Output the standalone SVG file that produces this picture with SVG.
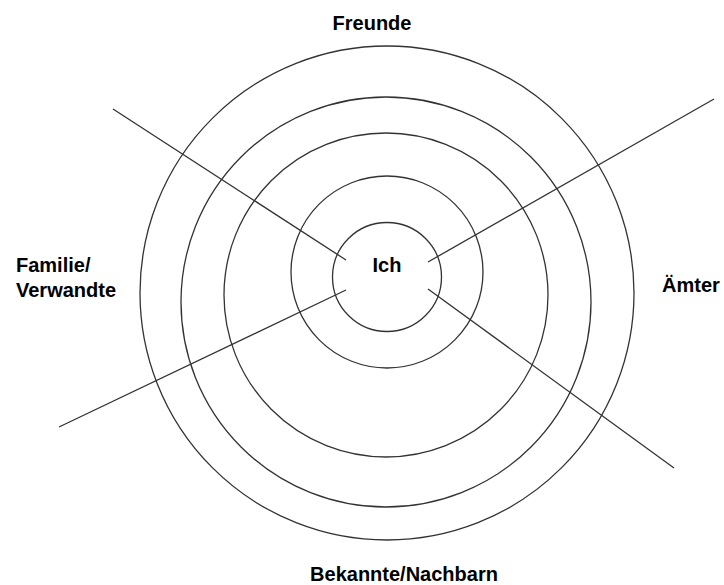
<svg xmlns="http://www.w3.org/2000/svg" width="724" height="585" viewBox="0 0 724 585">
<style>
.c{fill:none;stroke:#333;stroke-width:1.3}
.l{stroke:#333;stroke-width:1.3}
text{font-family:"Liberation Sans",Arial,sans-serif;font-weight:bold;font-size:20px;fill:#000}
</style>
<rect width="724" height="585" fill="#fff"/>
<g id="rings">
<circle id="r5" class="c" cx="387" cy="293" r="247"/>
<circle id="r4" class="c" cx="386" cy="302" r="205"/>
<circle id="r3" class="c" cx="386" cy="295" r="162"/>
<circle id="r2" class="c" cx="387" cy="272" r="96"/>
<circle id="r1" class="c" cx="387" cy="277" r="54.5"/>
</g>
<g id="connectors">
<line class="l" x1="113" y1="109" x2="346" y2="260"/>
<line class="l" x1="714" y1="99" x2="428" y2="262"/>
<line class="l" x1="59" y1="427" x2="346" y2="290"/>
<line class="l" x1="674" y1="468" x2="428" y2="289"/>
</g>
<g id="ich"><text x="387" y="272" text-anchor="middle">Ich</text></g>
<g id="freunde"><text x="372" y="30" text-anchor="middle">Freunde</text></g>
<g id="familie"><text x="16" y="272">Familie/</text><text x="16" y="297">Verwandte</text></g>
<g id="aemter"><text x="662" y="292">Ämter</text></g>
<g id="bekannte"><text x="404" y="581" text-anchor="middle">Bekannte/Nachbarn</text></g>
</svg>
